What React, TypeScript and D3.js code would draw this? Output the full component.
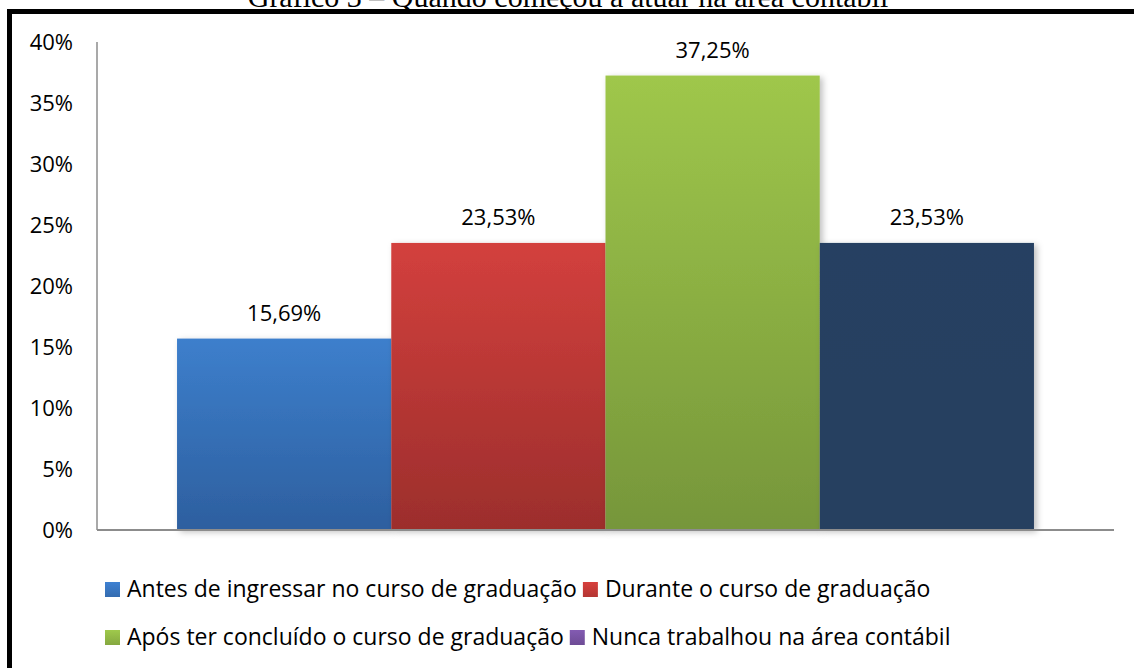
import React, { useEffect, useRef } from "react";
import * as d3 from "d3";

const title = "Gráfico 3 – Quando começou a atuar na área contábil";
const categories = ["Antes de ingressar no curso de graduação", "Durante o curso de graduação", "Após ter concluído o curso de graduação", "Nunca trabalhou na área contábil"];
const values = [15.69, 23.53, 37.25, 23.53];
const valueLabels = ["15,69%", "23,53%", "37,25%", "23,53%"];
const yTicks = [0, 5, 10, 15, 20, 25, 30, 35, 40];
const barTop = ["#3d7fcc", "#d3403d", "#9fc74b", "#274162"];
const barBottom = ["#2d5f9f", "#9c2e2c", "#76963a", "#263f60"];
const legendColors = ["#3a78c4", "#c83c39", "#94bb47", "#7a55a6"];

const FONT = "'Open Sans', 'Noto Sans', sans-serif";
const FS = 22;
const LFS = 23;

export default function App() {
  const ref = useRef<SVGSVGElement>(null);
  useEffect(() => {
    const svg = d3.select(ref.current);
    svg.selectAll("*").remove();
    const W = 1134, H = 668;
    const left = 97, right = 1114, top = 42, bottom = 530;

    const defs = svg.append("defs");
    categories.forEach((_, i) => {
      const g = defs.append("linearGradient").attr("id", "g" + i).attr("x1", 0).attr("y1", 0).attr("x2", 0).attr("y2", 1);
      g.append("stop").attr("offset", "0%").attr("stop-color", barTop[i]);
      g.append("stop").attr("offset", "100%").attr("stop-color", barBottom[i]);
      const lg = defs.append("linearGradient").attr("id", "lg" + i).attr("x1", 0).attr("y1", 0).attr("x2", 0).attr("y2", 1);
      lg.append("stop").attr("offset", "0%").attr("stop-color", d3.color(legendColors[i])!.brighter(0.2).toString());
      lg.append("stop").attr("offset", "100%").attr("stop-color", d3.color(legendColors[i])!.darker(0.3).toString());
    });
    const f = defs.append("filter").attr("id", "sh").attr("x", "-10%").attr("y", "-10%").attr("width", "130%").attr("height", "130%");
    f.append("feDropShadow").attr("dx", 3).attr("dy", 2).attr("stdDeviation", 3).attr("flood-color", "#000").attr("flood-opacity", 0.25);

    svg.append("rect").attr("width", W).attr("height", H).attr("fill", "#fff");

    // title (partly above the visible area, as in the reference)
    svg.append("text").attr("x", 568).attr("y", 7).attr("text-anchor", "middle")
      .attr("font-family", "'Liberation Serif', 'Times New Roman', serif").attr("font-size", 30).text(title);

    // border
    svg.append("rect").attr("x", 9.5).attr("y", 11.5).attr("width", 1200).attr("height", 800)
      .attr("fill", "none").attr("stroke", "#000").attr("stroke-width", 5);

    const y = d3.scaleLinear().domain([0, 40]).range([bottom, top]);
    const x0 = d3.scaleBand().domain(["c"]).range([left, right]).paddingInner(0).paddingOuter(0.0934);
    const x1 = d3.scaleBand().domain(categories).range([0, x0.bandwidth()]).padding(0);

    // y tick labels
    svg.append("g").selectAll("text").data(yTicks).join("text")
      .attr("x", 73).attr("y", d => y(d)).attr("dy", "0.36em").attr("text-anchor", "end")
      .attr("font-family", FONT).attr("font-size", FS).attr("fill", "#000")
      .text(d => d + "%");

    // bars
    svg.append("g").selectAll("rect").data(values).join("rect")
      .attr("x", (_, i) => x0("c")! + x1(categories[i])!)
      .attr("y", d => y(d))
      .attr("width", x1.bandwidth())
      .attr("height", d => bottom - y(d))
      .attr("fill", (_, i) => `url(#g${i})`)
      .attr("filter", "url(#sh)");

    // axes
    svg.append("line").attr("x1", left).attr("x2", left).attr("y1", top).attr("y2", bottom)
      .attr("stroke", "#8c8c8c").attr("stroke-width", 1.5);
    svg.append("line").attr("x1", left).attr("x2", right).attr("y1", bottom).attr("y2", bottom)
      .attr("stroke", "#8c8c8c").attr("stroke-width", 2);

    // value labels
    svg.append("g").selectAll("text").data(values).join("text")
      .attr("x", (_, i) => x0("c")! + x1(categories[i])! + x1.bandwidth() / 2)
      .attr("y", d => y(d) - 18).attr("text-anchor", "middle")
      .attr("font-family", FONT).attr("font-size", FS).attr("fill", "#000")
      .text((_, i) => valueLabels[i]);

    // legend (flow layout, two rows)
    const rows = [[0, 1], [2, 3]];
    const rowY = [589, 637];
    rows.forEach((row, r) => {
      let cx = 105;
      row.forEach(i => {
        svg.append("rect").attr("x", cx).attr("y", rowY[r] - 7).attr("width", 15).attr("height", 15)
          .attr("fill", `url(#lg${i})`);
        const t = svg.append("text").attr("x", cx + 22).attr("y", rowY[r]).attr("dy", "0.36em")
          .attr("font-family", FONT).attr("font-size", LFS).attr("fill", "#000").text(categories[i]);
        const w = (t.node() as SVGTextElement).getComputedTextLength();
        cx = cx + 22 + w + 6;
      });
    });
  }, []);
  return (
    <svg ref={ref} width={1134} height={668} style={{ position: "absolute", left: 0, top: 0 }} />
  );
}
